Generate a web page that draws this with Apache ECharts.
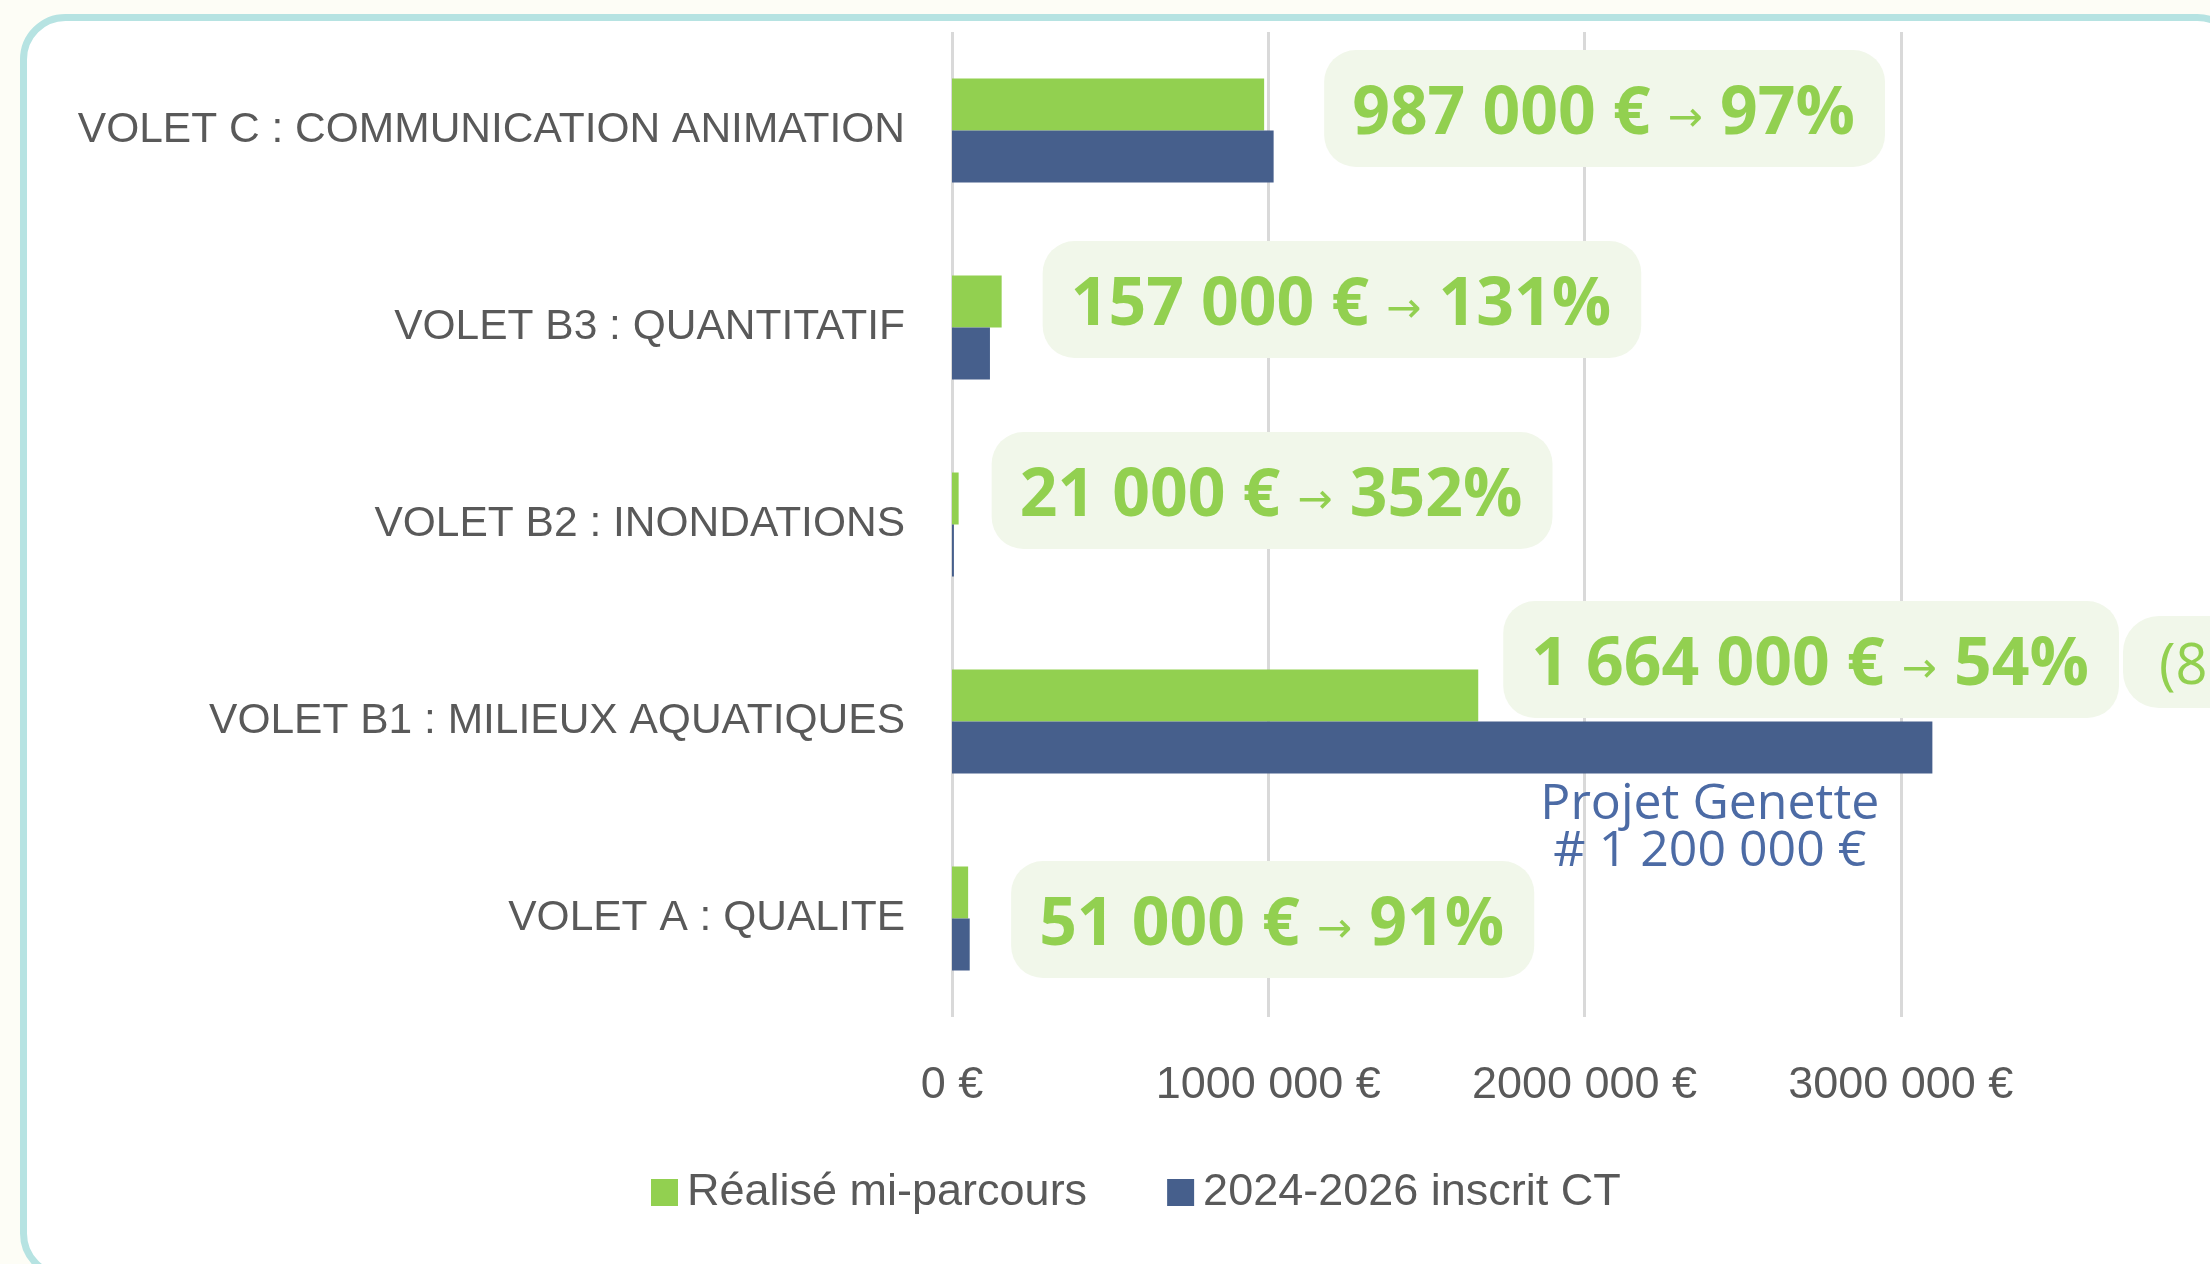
<!DOCTYPE html>
<html>
<head>
<meta charset="utf-8">
<script src="https://cdn.jsdelivr.net/npm/echarts@6/dist/echarts.min.js"></script>
<style>
  html, body { margin: 0; padding: 0; background: #fdfdf6; }
  #main { width: 2210px; height: 1264px; }
</style>
</head>
<body>
<div id="main"></div>
<script>
// données
const categories = ['VOLET C : COMMUNICATION ANIMATION', 'VOLET B3 : QUANTITATIF', 'VOLET B2 : INONDATIONS', 'VOLET B1 : MILIEUX AQUATIQUES', 'VOLET A : QUALITE']
const realise = [987000, 157000, 21000, 1664000, 51000]
const inscrit = [1017000, 120000, 6000, 3100000, 56000]
const taux = [97, 131, 352, 54, 91]
const xTickLabels = ['0 €', '1000 000 €', '2000 000 €', '3000 000 €']
const seriesNames = ['Réalisé mi-parcours', '2024-2026 inscrit CT']

// décalage des étiquettes vertes (px)
const labelOffsets = [[60, 4], [41, -2], [33, -8], [25, -36], [43, 27]]

const narrow = '"Liberation Sans", sans-serif'
const green = '#92d050'
const blue = '#465f8c'

function euros (v) {
  return String(v).replace(/\B(?=(\d{3})+(?!\d))/g, ' ') + ' €'
}

const chart = echarts.init(document.getElementById('main'))

const option = {
  backgroundColor: '#fdfdf6',
  animation: false,
  graphic: [
    {
      type: 'rect',
      z: -10,
      shape: { x: 23.5, y: 17.5, width: 2216, height: 1258, r: 42 },
      style: { fill: '#ffffff', stroke: '#b6e3e2', lineWidth: 7 }
    },
    {
      type: 'text',
      left: 2123,
      top: 616,
      style: {
        text: '(88% hors Genette)',
        fill: green,
        font: '56px "Open Sans"',
        backgroundColor: '#f1f7ea',
        borderRadius: 36,
        padding: [24, 30, 12, 36]
      }
    }
  ],
  grid: {
    left: 952,
    top: 32,
    width: 1265,
    height: 985,
    containLabel: false,
    outerBoundsMode: 'none'
  },
  legend: {
    left: 646,
    top: 1165,
    itemWidth: 27,
    itemHeight: 27,
    itemGap: 80,
    icon: 'rect',
    data: seriesNames,
    textStyle: { fontSize: 45, color: '#595959', fontFamily: narrow, padding: [0, 0, 0, 4] }
  },
  xAxis: {
    type: 'value',
    min: 0,
    max: 4000000,
    interval: 1000000,
    axisLine: { show: false },
    axisTick: { show: false },
    splitLine: { show: true, lineStyle: { color: '#d9d9d9', width: 3 } },
    axisLabel: {
      margin: 46,
      fontSize: 45,
      color: '#595959',
      fontFamily: narrow,
      showMaxLabel: false,
      formatter: function (v) { return xTickLabels[Math.round(v / 1000000)] || '' }
    }
  },
  yAxis: {
    type: 'category',
    inverse: true,
    data: categories,
    axisLine: { show: false },
    axisTick: { show: false },
    axisLabel: { margin: 47, fontSize: 42.5, color: '#595959', fontFamily: narrow }
  },
  series: [
    {
      name: seriesNames[0],
      type: 'bar',
      barWidth: 52,
      barGap: '0%',
      itemStyle: { color: green },
      data: realise.map(function (v, i) {
        return { value: v, label: { offset: labelOffsets[i] } }
      }),
      label: {
        show: true,
        position: 'right',
        distance: 0,
        backgroundColor: '#f1f7ea',
        borderRadius: 32,
        padding: [21, 30, 7, 28],
        formatter: function (p) {
          return '{v|' + euros(p.value) + ' }{a|→}{v| ' + taux[p.dataIndex] + '%}'
        },
        rich: {
          v: { fontFamily: '"Open Sans"', fontWeight: 'bold', fontSize: 66, color: green, lineHeight: 89 },
          a: { fontFamily: '"DejaVu Sans"', fontSize: 42, color: green, lineHeight: 89, padding: [10, 0, 0, 0] }
        }
      }
    },
    {
      name: seriesNames[1],
      type: 'bar',
      barWidth: 52,
      barGap: '0%',
      itemStyle: { color: blue },
      data: inscrit.map(function (v, i) {
        if (i !== 3) return v
        return {
          value: v,
          label: {
            show: true,
            position: ['77.3%', '100%'],
            align: 'center',
            formatter: 'Projet Genette\n# 1 200 000 €',
            fontFamily: '"Open Sans"',
            fontSize: 50,
            lineHeight: 47,
            color: '#4c6ba5',
            padding: [8, 0, 0, 0]
          }
        }
      })
    }
  ]
}

chart.setOption(option)
</script>
</body>
</html>
